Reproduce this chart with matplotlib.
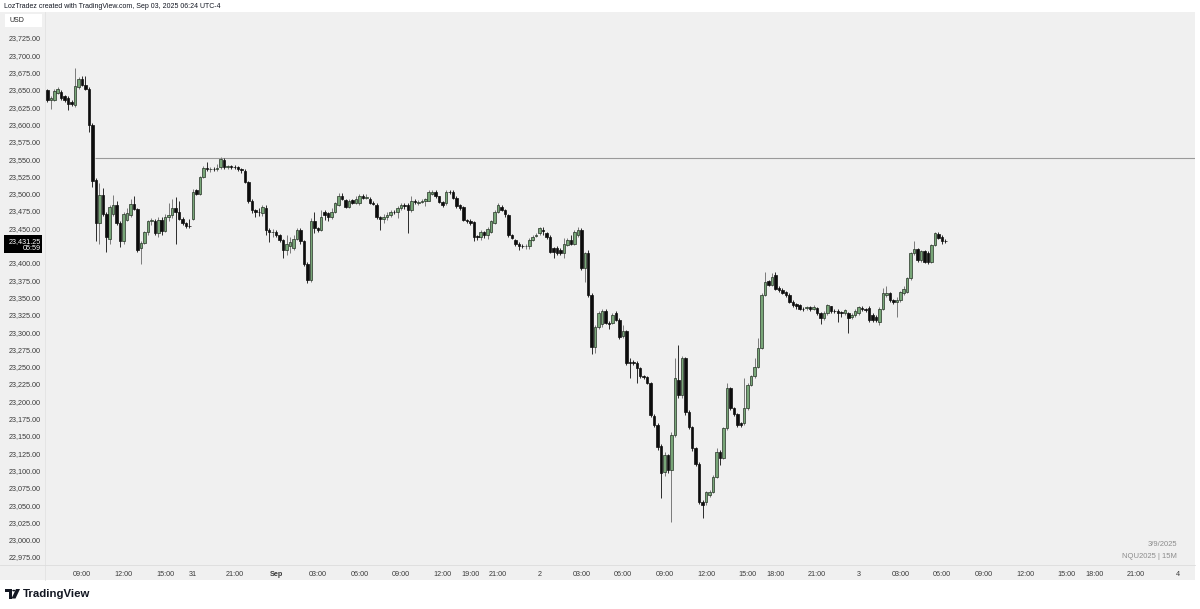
import numpy as np
import matplotlib
matplotlib.use('Agg')
from matplotlib import pyplot as plt
from matplotlib.patches import Rectangle, Polygon, Circle

plt.rcParams['font.family'] = ['Liberation Sans', 'DejaVu Sans']

# NQU2025, 15 minute bars from Aug 29 06:30 to Sep 3 06:15 (session gaps removed)
first_bar = 2
opens = [
    23650, 23636, 23636, 23646, 23647, 23641, 23639, 23633, 23628, 23654,
    23666, 23657, 23652, 23600, 23520, 23458, 23498, 23471, 23435, 23470,
    23483, 23457, 23431, 23462, 23469, 23485, 23478, 23421, 23429, 23444,
    23460, 23461, 23443, 23462, 23446, 23467, 23469, 23479, 23474, 23464,
    23457, 23454, 23464, 23505, 23500, 23524, 23537, 23535, 23536, 23535,
    23539, 23549, 23539, 23540, 23539, 23538, 23536, 23533, 23517, 23489,
    23476, 23474, 23472, 23480, 23448, 23444, 23445, 23440, 23433, 23419,
    23424, 23421, 23435, 23448, 23431, 23399, 23375, 23460, 23450, 23448,
    23474, 23472, 23467, 23474, 23484, 23496, 23491, 23481, 23491, 23487,
    23486, 23496, 23494, 23493, 23487, 23484, 23467, 23463, 23466, 23469,
    23474, 23474, 23479, 23483, 23484, 23476, 23489, 23486, 23488, 23489,
    23490, 23500, 23503, 23496, 23488, 23486, 23503, 23503, 23494, 23483,
    23481, 23462, 23461, 23459, 23439, 23437, 23444, 23440, 23445, 23458,
    23474, 23481, 23477, 23469, 23440, 23433, 23428, 23425, 23424, 23424,
    23433, 23439, 23443, 23448, 23443, 23438, 23421, 23421, 23419, 23414,
    23426, 23433, 23428, 23440, 23448, 23392, 23414, 23354, 23279, 23308,
    23312, 23330, 23313, 23313, 23327, 23318, 23294, 23301, 23257, 23257,
    23255, 23248, 23236, 23235, 23226, 23179, 23166, 23136, 23098, 23122,
    23101, 23151, 23231, 23209, 23262, 23185, 23163, 23132, 23110, 23055,
    23055, 23065, 23069, 23091, 23127, 23118, 23161, 23219, 23190, 23181,
    23168, 23168, 23190, 23224, 23236, 23250, 23277, 23354, 23374, 23368,
    23382, 23364, 23361, 23358, 23354, 23344, 23340, 23339, 23334, 23335,
    23336, 23334, 23335, 23327, 23320, 23327, 23337, 23331, 23331, 23329,
    23327, 23327, 23322, 23325, 23327, 23335, 23333, 23335, 23325, 23322,
    23315, 23334, 23353, 23356, 23346, 23344, 23346, 23356, 23358, 23378,
    23414, 23420, 23404, 23417, 23415, 23402, 23426, 23442, 23438, 23432,
]
highs = [
    23651, 23641, 23651, 23654, 23650, 23643, 23641, 23636, 23681, 23668,
    23670, 23670, 23654, 23602, 23522, 23515, 23508, 23473, 23483, 23498,
    23490, 23460, 23473, 23480, 23492, 23496, 23480, 23432, 23446, 23462,
    23465, 23463, 23466, 23467, 23470, 23486, 23493, 23495, 23490, 23466,
    23459, 23464, 23507, 23507, 23526, 23540, 23546, 23538, 23539, 23543,
    23553, 23552, 23542, 23542, 23541, 23540, 23537, 23535, 23519, 23492,
    23478, 23479, 23483, 23483, 23450, 23449, 23447, 23442, 23435, 23440,
    23438, 23440, 23450, 23450, 23433, 23401, 23465, 23474, 23452, 23476,
    23476, 23474, 23479, 23488, 23501, 23501, 23493, 23493, 23493, 23496,
    23500, 23500, 23500, 23495, 23489, 23486, 23468, 23470, 23473, 23477,
    23477, 23482, 23486, 23487, 23486, 23496, 23492, 23491, 23492, 23494,
    23505, 23506, 23505, 23497, 23490, 23506, 23505, 23505, 23496, 23485,
    23482, 23464, 23463, 23460, 23441, 23447, 23446, 23452, 23462, 23476,
    23486, 23484, 23478, 23471, 23442, 23435, 23430, 23427, 23428, 23436,
    23440, 23443, 23452, 23452, 23445, 23440, 23423, 23424, 23421, 23436,
    23436, 23440, 23447, 23452, 23450, 23416, 23418, 23356, 23310, 23330,
    23334, 23333, 23316, 23328, 23330, 23320, 23310, 23303, 23262, 23259,
    23258, 23250, 23238, 23237, 23228, 23181, 23168, 23138, 23126, 23124,
    23155, 23262, 23281, 23265, 23264, 23187, 23165, 23134, 23112, 23057,
    23071, 23072, 23093, 23132, 23129, 23163, 23226, 23221, 23192, 23183,
    23170, 23233, 23226, 23238, 23262, 23291, 23356, 23387, 23376, 23385,
    23387, 23366, 23363, 23360, 23356, 23346, 23342, 23341, 23336, 23338,
    23338, 23339, 23336, 23329, 23330, 23341, 23338, 23333, 23333, 23331,
    23334, 23329, 23328, 23333, 23338, 23337, 23335, 23338, 23327, 23324,
    23336, 23363, 23366, 23358, 23348, 23350, 23360, 23366, 23380, 23416,
    23431, 23422, 23419, 23419, 23417, 23428, 23445, 23444, 23440, 23434,
]
lows = [
    23632, 23623, 23634, 23644, 23636, 23633, 23621, 23627, 23626, 23652,
    23655, 23650, 23589, 23510, 23431, 23428, 23468, 23416, 23428, 23468,
    23455, 23423, 23427, 23460, 23466, 23476, 23416, 23399, 23427, 23440,
    23455, 23440, 23438, 23441, 23444, 23460, 23465, 23428, 23462, 23455,
    23451, 23451, 23462, 23498, 23498, 23522, 23533, 23532, 23533, 23533,
    23536, 23536, 23536, 23535, 23535, 23533, 23530, 23515, 23486, 23472,
    23466, 23468, 23468, 23440, 23430, 23438, 23437, 23430, 23407, 23411,
    23414, 23419, 23433, 23428, 23396, 23371, 23373, 23443, 23444, 23446,
    23462, 23461, 23464, 23472, 23482, 23491, 23479, 23479, 23485, 23485,
    23484, 23492, 23492, 23485, 23483, 23464, 23447, 23458, 23462, 23466,
    23470, 23465, 23476, 23478, 23443, 23474, 23485, 23484, 23486, 23482,
    23489, 23498, 23494, 23486, 23481, 23484, 23500, 23492, 23480, 23477,
    23460, 23457, 23455, 23431, 23433, 23433, 23436, 23434, 23443, 23456,
    23472, 23475, 23467, 23438, 23434, 23425, 23419, 23421, 23420, 23420,
    23431, 23437, 23440, 23441, 23435, 23414, 23407, 23411, 23412, 23407,
    23424, 23426, 23426, 23438, 23390, 23373, 23350, 23268, 23270, 23305,
    23308, 23311, 23305, 23311, 23316, 23290, 23292, 23253, 23233, 23252,
    23226, 23234, 23232, 23225, 23178, 23163, 23130, 23060, 23092, 23096,
    23026, 23149, 23205, 23205, 23180, 23160, 23128, 23106, 23052, 23031,
    23050, 23062, 23067, 23089, 23108, 23116, 23159, 23188, 23179, 23163,
    23163, 23166, 23188, 23222, 23234, 23248, 23275, 23352, 23366, 23366,
    23361, 23358, 23355, 23351, 23342, 23336, 23334, 23332, 23330, 23332,
    23331, 23332, 23325, 23312, 23317, 23325, 23328, 23328, 23315, 23322,
    23325, 23298, 23319, 23322, 23325, 23331, 23329, 23315, 23315, 23314,
    23310, 23332, 23350, 23344, 23341, 23322, 23344, 23354, 23356, 23376,
    23412, 23401, 23402, 23400, 23399, 23400, 23424, 23434, 23427, 23429,
]
closes = [
    23636, 23638, 23649, 23651, 23638, 23636, 23630, 23629, 23655, 23666,
    23657, 23652, 23600, 23519, 23457, 23498, 23471, 23438, 23481, 23483,
    23457, 23431, 23471, 23472, 23485, 23478, 23419, 23429, 23444, 23460,
    23462, 23443, 23462, 23446, 23467, 23469, 23479, 23474, 23464, 23457,
    23454, 23453, 23503, 23500, 23524, 23537, 23535, 23536, 23535, 23537,
    23550, 23539, 23540, 23539, 23538, 23536, 23534, 23517, 23489, 23476,
    23473, 23473, 23481, 23448, 23444, 23445, 23440, 23433, 23419, 23428,
    23430, 23435, 23448, 23431, 23399, 23375, 23460, 23450, 23448, 23466,
    23469, 23467, 23474, 23486, 23496, 23493, 23481, 23490, 23487, 23493,
    23497, 23494, 23495, 23487, 23485, 23467, 23463, 23466, 23469, 23474,
    23473, 23479, 23483, 23482, 23476, 23489, 23488, 23488, 23490, 23492,
    23503, 23503, 23496, 23488, 23483, 23503, 23502, 23494, 23482, 23479,
    23462, 23460, 23457, 23438, 23437, 23444, 23440, 23449, 23460, 23474,
    23484, 23477, 23470, 23440, 23436, 23428, 23424, 23424, 23425, 23433,
    23438, 23441, 23450, 23446, 23438, 23416, 23416, 23414, 23415, 23428,
    23433, 23428, 23445, 23448, 23392, 23414, 23354, 23279, 23308, 23327,
    23331, 23313, 23311, 23325, 23318, 23293, 23301, 23255, 23256, 23255,
    23248, 23236, 23235, 23227, 23180, 23166, 23134, 23096, 23123, 23101,
    23151, 23233, 23209, 23262, 23185, 23163, 23132, 23110, 23055, 23050,
    23069, 23069, 23091, 23127, 23118, 23161, 23219, 23190, 23181, 23166,
    23166, 23190, 23224, 23236, 23250, 23277, 23354, 23373, 23368, 23380,
    23363, 23361, 23357, 23354, 23344, 23339, 23337, 23334, 23333, 23335,
    23334, 23336, 23327, 23320, 23327, 23339, 23330, 23330, 23327, 23327,
    23332, 23320, 23325, 23330, 23336, 23333, 23332, 23318, 23318, 23317,
    23334, 23356, 23356, 23346, 23344, 23346, 23358, 23363, 23378, 23414,
    23420, 23404, 23417, 23402, 23402, 23426, 23443, 23436, 23432, 23431.25,
]

# time axis: bar index of each label (trading time, gaps collapsed)
tick_bars = [12, 24, 36, 44, 56, 68, 80, 92, 104, 116, 124, 132, 144, 156,
             168, 180, 192, 204, 212, 224, 236, 248, 260, 272, 284, 296, 304,
             316, 328]
tick_labels = ['09:00', '12:00', '15:00', '31', '21:00', 'Sep', '03:00', '06:00',
               '09:00', '12:00', '19:00', '21:00', '2', '03:00', '06:00', '09:00',
               '12:00', '15:00', '18:00', '21:00', '3', '03:00', '06:00', '09:00',
               '12:00', '15:00', '18:00', '21:00', '4']
level = 23551
level_start = 15.7
last_price = 23431.25

W, H = 1200, 609
BG = '#f0f0f0'
fig = plt.figure(figsize=(W / 100, H / 100), dpi=100, facecolor='white')


def fx(px):
    return px / W


def fy(py):
    return 1 - py / H


# chart frame
fig.add_artist(Rectangle((0, fy(580)), fx(1195), (580 - 12) / H, transform=fig.transFigure,
                         facecolor=BG, edgecolor='none', zorder=0))

ax = fig.add_axes([fx(45), fy(565), fx(1150), (565 - 12) / H])
ax.set_facecolor(BG)
for s in ax.spines.values():
    s.set_visible(False)

o = np.array(opens, dtype=float)
h = np.array(highs, dtype=float)
l = np.array(lows, dtype=float)
c = np.array(closes, dtype=float)
x = np.arange(len(c)) + first_bar
up = c >= o

ax.vlines(x[up], l[up], h[up], color='#7a7a7a', lw=0.7, zorder=2)
ax.vlines(x[~up], l[~up], h[~up], color='#2a2a2a', lw=0.7, zorder=2)
bottom = np.minimum(o, c)
height = np.maximum(np.abs(c - o), 0.8)
ax.bar(x[up], height[up], bottom=bottom[up], width=0.72, color='#78a678',
       edgecolor='#263226', linewidth=0.5, zorder=3)
ax.bar(x[~up], height[~up], bottom=bottom[~up], width=0.72, color='#0d0d0d',
       edgecolor='#0d0d0d', linewidth=0.5, zorder=3)

xmax = 333
ax.hlines(level, level_start, xmax, color='#9a9a9a', lw=0.8, zorder=1)

ax.set_xlim(1.33, xmax)
ax.set_ylim(22963.4, 23762.6)

price_ticks = [p for p in np.arange(22975, 23726, 25) if p != 23425]
ax.set_yticks(price_ticks)
ax.set_yticklabels([f'{p:,.2f}' for p in price_ticks])
ax.tick_params(axis='y', length=0, pad=3, labelsize=5.2, labelcolor='#3a3a3a')
ax.set_xticks(tick_bars)
ax.set_xticklabels(tick_labels)
ax.tick_params(axis='x', length=0, pad=4.2, labelsize=5.2, labelcolor='#3a3a3a')
for t in ax.get_xticklabels():
    if t.get_text() == 'Sep':
        t.set_fontweight('bold')

# separators between panes
fig.add_artist(plt.Line2D([fx(44.5), fx(44.5)], [fy(12), fy(580)], color='#e2e2e2', lw=0.6))
fig.add_artist(plt.Line2D([0, fx(1195)], [fy(565), fy(565)], color='#dcdcdc', lw=0.6))

# USD box
fig.add_artist(Rectangle((fx(5), fy(27)), fx(37), 13 / H, transform=fig.transFigure,
                         facecolor='white', edgecolor='none'))
fig.text(fx(10), fy(20.5), 'USD', fontsize=5, color='#222222', va='center')

# last price label
fig.canvas.draw()
ypx = H - ax.transData.transform((0, last_price))[1]
fig.add_artist(Rectangle((fx(4), fy(ypx + 12)), fx(38), 18 / H, transform=fig.transFigure,
                         facecolor='#000000', edgecolor='none', zorder=5))
fig.text(fx(41), fy(ypx), f'{last_price:,.2f}', fontsize=5.2, color='white',
         ha='right', va='center', zorder=6)
fig.text(fx(41), fy(ypx + 7.5), '05:59', fontsize=5.2, color='white',
         ha='right', va='center', zorder=6)

fig.text(fx(4), fy(6), 'LozTradez created with TradingView.com, Sep 03, 2025 06:24 UTC-4',
         fontsize=5, color='#131722', va='center')
fig.text(fx(1177), fy(544), '3/9/2025', fontsize=5.5, color='#8c8c8c', ha='right', va='center')
fig.text(fx(1177), fy(556), 'NQU2025 | 15M', fontsize=5.5, color='#8c8c8c', ha='right', va='center')

# TradingView logo
fig.add_artist(Polygon([(fx(5), fy(589)), (fx(12), fy(589)), (fx(12), fy(598.5)),
                        (fx(9), fy(598.5)), (fx(9), fy(592)), (fx(5), fy(592))],
                       closed=True, transform=fig.transFigure, facecolor='#131722'))
fig.add_artist(Circle((fx(13.8), fy(590.6)), 1.6 / W, transform=fig.transFigure,
                      facecolor='#131722'))
fig.add_artist(Polygon([(fx(16), fy(589)), (fx(20), fy(589)), (fx(15.5), fy(598.5)),
                        (fx(11.5), fy(598.5))],
                       closed=True, transform=fig.transFigure, facecolor='#131722'))
fig.text(fx(22.5), fy(594), 'TradingView', fontsize=8.2, fontweight='bold',
         color='#131722', va='center')

fig.savefig('out.png', dpi=100, facecolor='white')
